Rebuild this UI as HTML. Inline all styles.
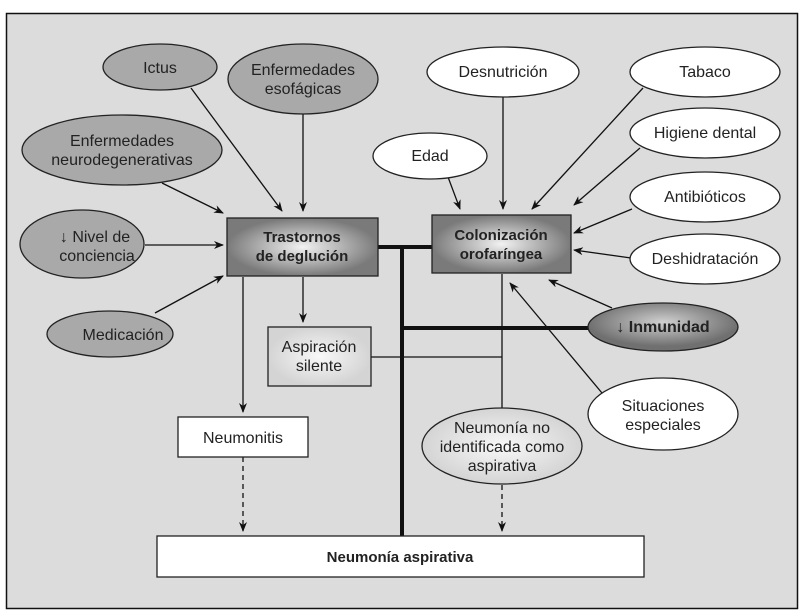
<!DOCTYPE html>
<html><head><meta charset="utf-8"><style>
html,body{margin:0;padding:0;background:#fff;}
svg{display:block;}
text{font-family:"Liberation Sans",sans-serif;font-size:16px;fill:#222;text-anchor:middle;}
.b{font-weight:bold;font-size:15px;}
</style></head><body>
<svg width="803" height="616" viewBox="0 0 803 616" xmlns="http://www.w3.org/2000/svg">
<defs>
<marker id="a" markerWidth="10" markerHeight="8" refX="9" refY="4" orient="auto" markerUnits="userSpaceOnUse"><path d="M0,0 L10,4 L0,8 L3,4z" fill="#111"/></marker>
<radialGradient id="g1"><stop offset="0" stop-color="#f2f2f2"/><stop offset="1" stop-color="#7a7a7a"/></radialGradient>
<radialGradient id="g2"><stop offset="0" stop-color="#f8f8f8"/><stop offset="1" stop-color="#d4d4d4"/></radialGradient>
<radialGradient id="g3" cx="0.5" cy="0.4"><stop offset="0" stop-color="#d0d0d0"/><stop offset="1" stop-color="#707070"/></radialGradient>
</defs>
<rect x="6.5" y="13.5" width="791" height="595" fill="#dcdcdc" stroke="#111" stroke-width="1.5"/>
<g stroke="#111" stroke-width="1.3" fill="none">
<line x1="191" y1="88" x2="282" y2="211" marker-end="url(#a)"/>
<line x1="303" y1="114" x2="303" y2="211" marker-end="url(#a)"/>
<line x1="162" y1="183" x2="223" y2="213" marker-end="url(#a)"/>
<line x1="145" y1="245" x2="223" y2="245" marker-end="url(#a)"/>
<line x1="155" y1="313" x2="223" y2="276" marker-end="url(#a)"/>
<line x1="503" y1="97" x2="503" y2="209" marker-end="url(#a)"/>
<line x1="448" y1="177" x2="460" y2="209" marker-end="url(#a)"/>
<line x1="643" y1="88" x2="532" y2="209" marker-end="url(#a)"/>
<line x1="640" y1="148" x2="574" y2="205" marker-end="url(#a)"/>
<line x1="632" y1="209" x2="574" y2="233" marker-end="url(#a)"/>
<line x1="631" y1="258" x2="574" y2="250" marker-end="url(#a)"/>
<line x1="612" y1="308" x2="549" y2="280" marker-end="url(#a)"/>
<line x1="602" y1="393" x2="510" y2="283" marker-end="url(#a)"/>
<line x1="303" y1="277" x2="303" y2="322" marker-end="url(#a)"/>
<line x1="243" y1="277" x2="243" y2="412" marker-end="url(#a)"/>
<line x1="243" y1="457" x2="243" y2="531" stroke-dasharray="5,4" marker-end="url(#a)"/>
<line x1="502" y1="485" x2="502" y2="531" stroke-dasharray="5,4" marker-end="url(#a)"/>
<line x1="502" y1="274" x2="502" y2="408"/>
<line x1="371" y1="357" x2="502" y2="357"/>
</g>
<g stroke="#111" stroke-width="4" fill="none">
<line x1="378" y1="247" x2="432" y2="247"/>
<line x1="402" y1="247" x2="402" y2="536"/>
<line x1="402" y1="328" x2="590" y2="328"/>
</g>
<g stroke="#222" stroke-width="1.3" fill="#a9a9a9">
<ellipse cx="160" cy="67" rx="57" ry="23"/>
<ellipse cx="303" cy="79" rx="75" ry="35"/>
<ellipse cx="122" cy="150" rx="100" ry="35"/>
<ellipse cx="82" cy="244" rx="62" ry="34"/>
<ellipse cx="110" cy="334" rx="63" ry="23"/>
</g>
<g stroke="#222" stroke-width="1.3" fill="#fff">
<ellipse cx="503" cy="72" rx="76" ry="25"/>
<ellipse cx="705" cy="72" rx="75" ry="25"/>
<ellipse cx="430" cy="156" rx="57" ry="23"/>
<ellipse cx="705" cy="133" rx="75" ry="25"/>
<ellipse cx="705" cy="197" rx="75" ry="25"/>
<ellipse cx="705" cy="259" rx="75" ry="25"/>
<ellipse cx="663" cy="414" rx="75" ry="36"/>
<ellipse cx="663" cy="327" rx="75" ry="24" fill="url(#g3)"/>
<ellipse cx="502" cy="446" rx="80" ry="38" fill="url(#g2)"/>
<rect x="227" y="218" width="151" height="58" fill="url(#g1)"/>
<rect x="432" y="215" width="139" height="58" fill="url(#g1)"/>
<rect x="268" y="327" width="103" height="59" fill="url(#g2)"/>
<rect x="178" y="417" width="130" height="40"/>
<rect x="157" y="536" width="487" height="41"/>
</g>
<text x="160" y="73">Ictus</text>
<text x="303" y="75">Enfermedades</text><text x="303" y="94">esofágicas</text>
<text x="122" y="146">Enfermedades</text><text x="122" y="165">neurodegenerativas</text>
<text x="95" y="242">↓ Nivel de</text><text x="97" y="261">conciencia</text>
<text x="123" y="340">Medicación</text>
<text x="503" y="77">Desnutrición</text>
<text x="705" y="77">Tabaco</text>
<text x="430" y="161">Edad</text>
<text x="705" y="138">Higiene dental</text>
<text x="705" y="202">Antibióticos</text>
<text x="705" y="264">Deshidratación</text>
<text x="663" y="332" class="b" style="font-size:16px">↓ Inmunidad</text>
<text x="663" y="411">Situaciones</text><text x="663" y="430">especiales</text>
<text x="502" y="433">Neumonía no</text><text x="502" y="452">identificada como</text><text x="502" y="471">aspirativa</text>
<text x="302" y="242" class="b">Trastornos</text><text x="302" y="261" class="b">de deglución</text>
<text x="501" y="240" class="b">Colonización</text><text x="501" y="259" class="b">orofaríngea</text>
<text x="319" y="352">Aspiración</text><text x="319" y="371">silente</text>
<text x="243" y="443">Neumonitis</text>
<text x="400" y="562" class="b">Neumonía aspirativa</text>
</svg>
</body></html>
